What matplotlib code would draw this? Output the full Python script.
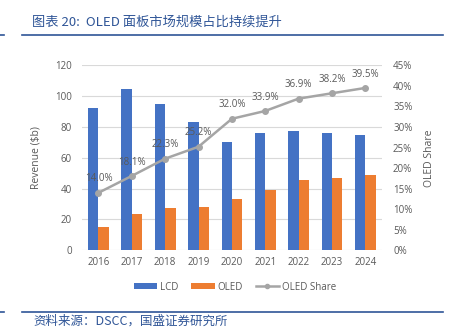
import matplotlib
matplotlib.use("Agg")
import matplotlib.pyplot as plt
import numpy as np
from matplotlib.lines import Line2D
from matplotlib.patches import Patch
from matplotlib.ticker import FuncFormatter

# Panel market: revenue by technology and OLED share of total
years = ["2016", "2017", "2018", "2019", "2020", "2021", "2022", "2023", "2024"]
lcd_revenue = [92.2, 104.5, 94.8, 83.3, 70.3, 76.3, 77.2, 76.3, 74.6]
oled_revenue = [15.1, 23.6, 27.3, 28.1, 33.1, 39.2, 45.4, 46.9, 49.1]
oled_share = [14.0, 18.1, 22.3, 25.2, 32.0, 33.9, 36.9, 38.2, 39.5]

TITLE = "图表 20:  OLED 面板市场规模占比持续提升"
SOURCE = "资料来源：DSCC，国盛证券研究所"

BLUE = "#4472C4"
ORANGE = "#ED7D31"
GREY = "#A5A5A5"
TEXT = "#595959"
GRID = "#D9D9D9"
BRAND = "#2F5597"

plt.rcParams["font.family"] = ["Open Sans", "DejaVu Sans"]
cjk = ["Noto Sans CJK SC", "DejaVu Sans"]

fig = plt.figure(figsize=(4.52, 3.30), dpi=100)
ax = fig.add_axes([0.181, 0.2415, 0.664, 0.5605])

x = np.arange(len(years))
bw = 0.31
ax.bar(x - 0.155, lcd_revenue, width=bw, color=BLUE, zorder=2)
ax.bar(x + 0.155, oled_revenue, width=bw, color=ORANGE, zorder=2)

ax.set_xlim(-0.5, len(years) - 0.5)
ax.set_ylim(0, 120)
ax.set_yticks(np.arange(0, 121, 20))
ax.set_xticks(x)
ax.set_xticklabels(years)
ax.grid(axis="y", color=GRID, linewidth=0.8, zorder=0)
ax.set_axisbelow(True)
for s in ax.spines.values():
    s.set_visible(False)
ax.tick_params(axis="both", length=0, labelsize=7, colors=TEXT)
ax.tick_params(axis="y", pad=7)
ax.tick_params(axis="x", pad=5)
ax.set_ylabel("Revenue ($b)", fontsize=7.5, color=TEXT, labelpad=10)

# Share line on its own percentage axis
ax2 = ax.twinx()
share = np.array(oled_share) / 100
ax2.plot(x, share, color=GREY, linewidth=1.8, marker="o", markersize=4, zorder=3)
ax2.set_ylim(0, 0.45)
ax2.set_yticks(np.arange(0, 0.451, 0.05))
ax2.yaxis.set_major_formatter(FuncFormatter(lambda v, _: f"{v * 100:.0f}%"))
for s in ax2.spines.values():
    s.set_visible(False)
ax2.tick_params(axis="y", length=0, labelsize=7, colors=TEXT, pad=8)
ax2.set_ylabel("OLED Share", fontsize=7.5, color=TEXT, labelpad=8)
for xi, v in zip(x, oled_share):
    ax2.annotate(f"{v:.1f}%", (xi, v / 100), xytext=(0, 6), textcoords="offset points",
                 ha="center", va="bottom", fontsize=7, color=TEXT)

handles = [
    Patch(facecolor=BLUE, label="LCD"),
    Patch(facecolor=ORANGE, label="OLED"),
    Line2D([], [], color=GREY, linewidth=1.8, marker="o", markersize=3, label="OLED Share"),
]
fig.legend(handles=handles, loc="center", bbox_to_anchor=(0.52, 0.13), ncol=3,
           frameon=False, fontsize=7, labelcolor=TEXT, handlelength=2.4,
           handleheight=0.6, handletextpad=0.3, columnspacing=1.3)

# Header and footer rules
for yy in (1 - 35 / 330, 1 - 311.5 / 330):
    fig.add_artist(Line2D([22 / 452, 443 / 452], [yy, yy], color=BRAND, linewidth=1.2))
    fig.add_artist(Line2D([0, 4 / 452], [yy, yy], color=BRAND, linewidth=1.2))

fig.text(32 / 452, 1 - 22 / 330, TITLE, family=cjk, fontsize=9.5, color=BRAND,
         style="italic", va="center", ha="left")
fig.text(33 / 452, 1 - 321 / 330, SOURCE, family=cjk, fontsize=9, color=BRAND,
         style="italic", va="center", ha="left")

fig.savefig("out.png", dpi=100)
